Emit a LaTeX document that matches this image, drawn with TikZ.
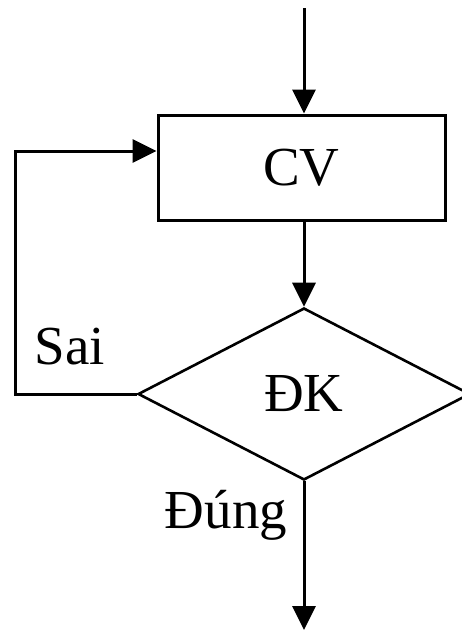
\documentclass[tikz,border=0pt]{standalone}
\usepackage{fontspec}
\setmainfont{Liberation Serif}
\usetikzlibrary{shapes.geometric,arrows.meta}
\begin{document}
\begin{tikzpicture}[x=1pt,y=-1pt,
  every node/.style={font=\fontsize{55}{60}\selectfont},
  flowline/.style={line width=3pt},
  arr/.style={flowline,-{Triangle[length=24pt,width=23pt]}},
  procbox/.style={draw,line width=3pt,minimum width=287pt,minimum height=105pt,inner sep=0pt},
  testbox/.style={draw,diamond,line width=2.6pt,minimum width=332pt,minimum height=172pt,inner sep=0pt},
  lbl/.style={anchor=base,inner sep=0pt}]
  \useasboundingbox (0,0) rectangle (461,632);
  \fill[white] (0,0) rectangle (461,632);

  % blocks
  \node[procbox] (cv) at (301.5,167.5) {CV};
  \node[testbox] (dk) at (304,394) {ĐK};

  % free ends of the flow
  \coordinate (in) at (304,8);
  \coordinate (out) at (304,630);
  \coordinate (lp) at (15,151);

  % connectors
  \draw[arr] (in) -- (in |- cv.north);
  \draw[arr] (dk.north |- cv.south) -- (dk.north);
  \draw[arr] (dk.south) -- (out);
  \draw[arr] (dk.west) -| (lp) -- (lp -| cv.west);

  % branch labels
  \node[lbl] (sai) at (70,364) {Sai};
  \node[lbl] (dung) at (226,528) {Đúng};
\end{tikzpicture}
\end{document}
